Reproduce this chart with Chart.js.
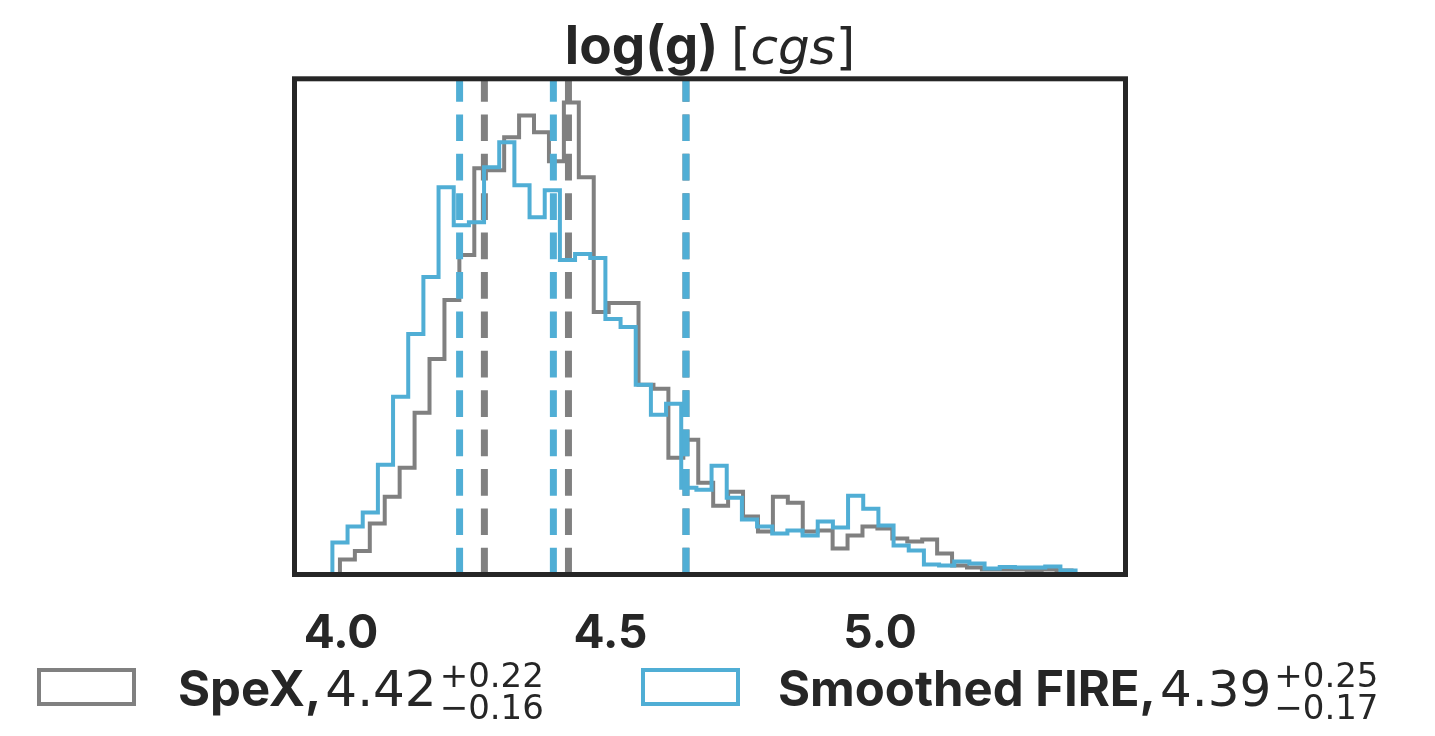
<!DOCTYPE html>
<html>
<head>
<meta charset="utf-8">
<script src="https://cdn.jsdelivr.net/npm/chart.js@4.4.1/dist/chart.umd.min.js"></script>
<style>
body{margin:0;background:#fff;}
#wrap{position:relative;width:1435px;height:736px;overflow:hidden;}
#c{position:absolute;left:0;top:0;}
.t{position:absolute;white-space:nowrap;color:#262626;}
.b{font-family:Inter;font-weight:bold;}
.m{font-family:"DejaVu Sans";font-weight:normal;}
.it{font-style:italic;}
.box{position:absolute;box-sizing:border-box;background:#fff;border:4px solid;}
.stack{display:inline-flex;flex-direction:column;vertical-align:baseline;position:relative;top:-19px;
  font-family:"DejaVu Sans";font-size:34px;line-height:32px;margin-left:3px;}
</style>
</head>
<body>
<div id="wrap">
<canvas id="c" width="1435" height="736"></canvas>
<div class="t" style="left:294px;width:832px;text-align:center;top:19px;line-height:53px;">
 <span class="b" style="font-size:53px;">log(g) </span><span class="m" style="font-size:50px;">[<span class="it">cgs</span>]</span>
</div>
<div class="box" style="left:37px;top:668px;width:99px;height:38px;border-color:#808080;"></div>
<div class="t" style="left:178px;top:664px;line-height:49px;">
 <span class="b" style="font-size:49px;">SpeX,</span>&nbsp;<span class="m" style="font-size:50px;">4.42</span><span class="stack"><span>+0.22</span><span>−0.16</span></span>
</div>
<div class="box" style="left:641px;top:668px;width:99px;height:38px;border-color:#50aed5;"></div>
<div class="t" style="left:778px;top:664px;line-height:49px;">
 <span class="b" style="font-size:49px;">Smoothed FIRE,</span>&nbsp;<span class="m" style="font-size:50px;">4.39</span><span class="stack"><span>+0.25</span><span>−0.17</span></span>
</div>
</div>
<script>
// x axis
const xTicks = [4.0, 4.5, 5.0];
const xMin = 3.9137, xMax = 5.4555;

// histogram bin ranges (50 bins each)
const grayRange = [3.998, 5.383];
const blueRange = [3.984, 5.391];

// SpeX posterior histogram
const grayCounts = [9.5, 15, 23.5, 51, 78, 107, 162, 216, 275, 320,
  407, 405, 438, 460, 443, 414, 473, 398, 263, 272,
  272, 190, 186, 117, 135, 92, 69, 83, 58, 43,
  78, 72, 43, 44, 26, 39, 48, 46, 36, 33,
  35, 21, 9, 7, 5, 5, 5, 4, 5, 4];

// Smoothed FIRE posterior histogram
const blueCounts = [13, 32, 48, 62, 110, 178, 241, 298, 388, 350,
  353, 408, 433, 390, 358, 385, 315, 321, 317, 256,
  248, 190, 160, 171, 87, 85, 109, 77, 55, 48,
  41, 44, 39, 53, 47, 79, 66, 49, 29, 24,
  10, 9, 13, 11, 6, 7.5, 7, 7, 8, 4];

// 16th / 50th / 84th percentiles
const grayLines = [4.266, 4.422, 4.64];
const blueLines = [4.22, 4.394, 4.64];

const GRAY = '#808080', BLUE = '#50aed5';
const yMax = Math.max(...grayCounts, ...blueCounts) * 1.05;

function steps(range, counts){
  const w = (range[1] - range[0]) / counts.length;
  const pts = [{x: range[0], y: 0}];
  counts.forEach((c, i) => pts.push({x: range[0] + i * w, y: c}));
  pts.push({x: range[1], y: 0});
  return pts;
}
function vlines(vals, color){
  return vals.map(v => ({
    data: [{x: v, y: 0}, {x: v, y: yMax}],
    borderColor: color, borderWidth: 7, borderDash: [26.7, 12.7]
  }));
}

const frame = {
  id: 'frame',
  afterDatasetsDraw(chart){
    const {ctx, chartArea: a} = chart;
    ctx.save();
    ctx.strokeStyle = '#262626';
    ctx.lineWidth = 5;
    ctx.strokeRect(a.left, a.top, a.right - a.left, a.bottom - a.top);
    ctx.restore();
  }
};

new Chart(document.getElementById('c'), {
  type: 'line',
  data: {
    datasets: [
      ...vlines(blueLines, BLUE),
      {data: steps(blueRange, blueCounts), borderColor: BLUE, borderWidth: 4, stepped: 'after'},
      ...vlines(grayLines, GRAY),
      {data: steps(grayRange, grayCounts), borderColor: GRAY, borderWidth: 4, stepped: 'after'}
    ]
  },
  options: {
    responsive: false,
    animation: false,
    events: [],
    layout: {padding: {left: 294.5, right: 309.5, top: 78.8, bottom: 0}},
    elements: {point: {radius: 0}, line: {fill: false, tension: 0}},
    plugins: {legend: {display: false}, tooltip: {enabled: false}},
    scales: {
      x: {
        type: 'linear', min: xMin, max: xMax,
        grid: {display: false}, border: {display: false},
        afterBuildTicks: ax => { ax.ticks = xTicks.map(v => ({value: v})); },
        afterFit: ax => { ax.height = 161.5; },
        ticks: {
          padding: 24, color: '#262626', maxRotation: 0,
          font: {family: 'Inter', weight: 'bold', size: 46},
          callback: v => v.toFixed(1)
        }
      },
      y: {type: 'linear', min: 0, max: yMax, display: false}
    }
  },
  plugins: [frame]
});
</script>
</body>
</html>
